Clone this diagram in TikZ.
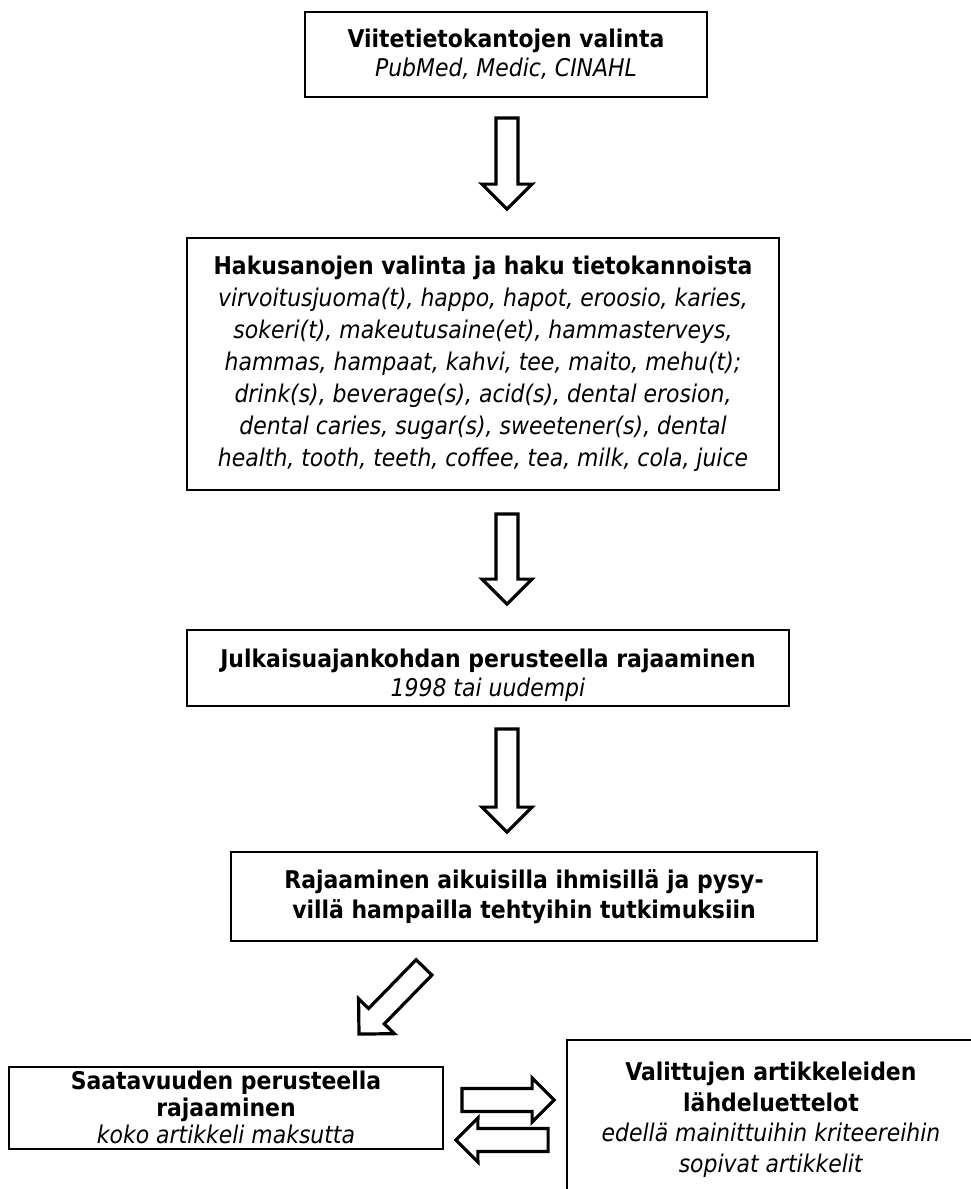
\documentclass[tikz,border=0pt]{standalone}
\usepackage{fontspec}
\setmainfont{DejaVu Sans Condensed}
\usetikzlibrary{calc}
\tikzset{
  box/.style={draw, line width=1.8pt, inner sep=0pt, align=center},
  barrow/.style n args={5}{draw, line width=3.2pt, line join=miter, to path={
    ($(\tikztostart)!#1!90:(\tikztotarget)$) --
    ($(\tikztotarget)!#2!-#3:(\tikztostart)$) --
    ($(\tikztotarget)!#4!-#5:(\tikztostart)$) --
    (\tikztotarget) --
    ($(\tikztotarget)!#4!#5:(\tikztostart)$) --
    ($(\tikztotarget)!#2!#3:(\tikztostart)$) --
    ($(\tikztostart)!#1!-90:(\tikztotarget)$) -- cycle}},
  varrow/.style={barrow={11pt}{27.31pt}{23.75}{35.36pt}{45}},
  harrow/.style={barrow={11.5pt}{24.8pt}{27.6}{31.11pt}{45}},
  txt/.style={font=\fontsize{24.4}{#1}\selectfont},
  label text/.style={txt=#1, align=center, inner sep=0pt},
}
\begin{document}
\begin{tikzpicture}[x=1pt,y=-1pt]
\useasboundingbox (0,0) rectangle (971,1189);
\clip (0,0) rectangle (971,1189);

\node[box, txt=29, minimum width=402pt, minimum height=85pt] (b1) at (506,54.5)
  {\textbf{Viitetietokantojen valinta}\\\textit{PubMed, Medic, CINAHL}};

\node[box, txt=32, minimum width=592pt, minimum height=252pt] (b2) at (483,364)
  {\textbf{Hakusanojen valinta ja haku tietokannoista}\\
   \textit{virvoitusjuoma(t), happo, hapot, eroosio, karies,}\\
   \textit{sokeri(t), makeutusaine(et), hammasterveys,}\\
   \textit{hammas, hampaat, kahvi, tee, maito, mehu(t);}\\
   \textit{drink(s), beverage(s), acid(s), dental erosion,}\\
   \textit{dental caries, sugar(s), sweetener(s), dental}\\
   \textit{health, tooth, teeth, coffee, tea, milk, cola, juice}};

\node[box, minimum width=602pt, minimum height=76pt] (b3) at (488,668) {};
\node[label text=29] (t3) at ([yshift=-7]b3.center)
  {\textbf{Julkaisuajankohdan perusteella rajaaminen}\\\textit{1998 tai uudempi}};

\node[box, txt=30, minimum width=586pt, minimum height=89pt] (b4) at (524,896.5)
  {\textbf{Rajaaminen aikuisilla ihmisillä ja pysy-}\\\textbf{villä hampailla tehtyihin tutkimuksiin}};

\node[box, minimum width=434pt, minimum height=82pt] (b5) at (226,1108) {};
\node[label text=27] (t5) at ([yshift=1]b5.center)
  {\textbf{Saatavuuden perusteella}\\\textbf{rajaaminen}\\\textit{koko artikkeli maksutta}};

\node[box, txt=30.5, minimum width=408pt, minimum height=160pt] (b6) at (771,1120)
  {\textbf{Valittujen artikkeleiden}\\\textbf{lähdeluettelot}\\
   \textit{edellä mainittuihin kriteereihin}\\\textit{sopivat artikkelit}};

\coordinate (a1s) at ([shift={(1,20)}]b1.south);
\coordinate (a1e) at ([shift={(24,-28)}]b2.north);
\coordinate (a2s) at ([shift={(24,23)}]b2.south);
\coordinate (a2e) at ([shift={(19,-25)}]b3.north);
\coordinate (a3s) at ([shift={(19,22)}]b3.south);
\coordinate (a3e) at ([shift={(-17,-19)}]b4.north);
\coordinate (a4s) at ([shift={(-100,25.5)}]b4.south);
\coordinate (a4e) at ([shift={(133,-32)}]b5.north);
\coordinate (a5s) at ([shift={(18,-8)}]b5.east);
\coordinate (a5e) at ([shift={(-12,-20)}]b6.west);
\coordinate (a6s) at ([shift={(-18,20)}]b6.west);
\coordinate (a6e) at ([shift={(12,32)}]b5.east);

\draw[varrow] (a1s) to (a1e);
\draw[varrow] (a2s) to (a2e);
\draw[varrow] (a3s) to (a3e);
\draw[varrow] (a4s) to (a4e);
\draw[harrow] (a5s) to (a5e);
\draw[harrow] (a6s) to (a6e);
\end{tikzpicture}
\end{document}
